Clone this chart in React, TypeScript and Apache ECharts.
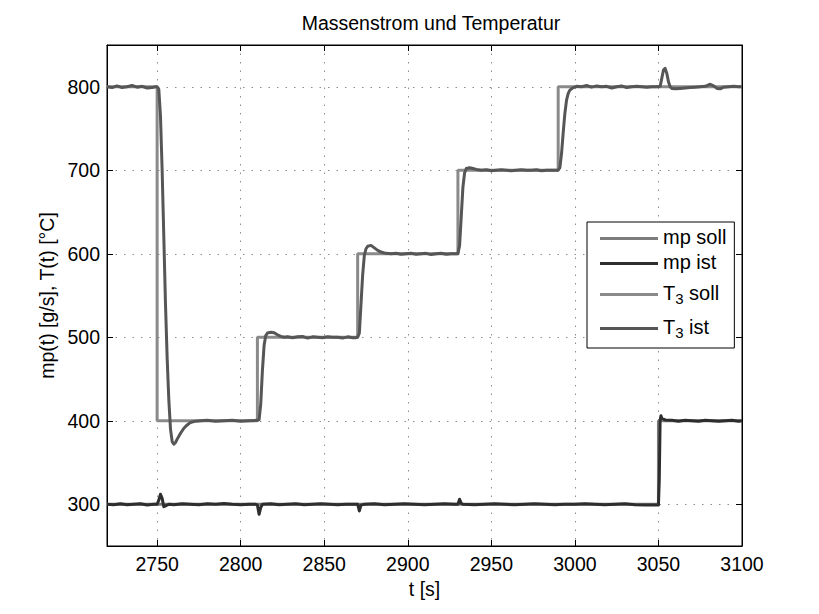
import React, { useEffect, useRef } from "react";
import * as echarts from "echarts";

const xTicks = [2750, 2800, 2850, 2900, 2950, 3000, 3050, 3100];
const yTicks = [300, 400, 500, 600, 700, 800];

const mpSoll: [number, number][] = [
  [2720, 300], [3050, 300], [3050, 400], [3100, 400],
];

const mpIst: [number, number][] = [
  [2720, 300], [2724, 299.5], [2728, 300.5], [2732, 299.5], [2736, 300], [2740, 300.5], [2744, 299], [2748, 300],
  [2750, 300], [2751, 305], [2752, 312], [2753, 307], [2754, 297], [2755, 298], [2757, 300], [2760, 299.5],
  [2765, 300.5], [2770, 300], [2775, 299.5], [2780, 300.5], [2785, 300], [2790, 301], [2795, 300], [2800, 299.5],
  [2805, 300], [2809, 300], [2810, 299], [2811, 288], [2812, 296], [2813, 300], [2818, 300.5], [2823, 299.5],
  [2828, 300], [2833, 300.5], [2838, 299.5], [2843, 300], [2848, 300.5], [2853, 300], [2858, 299.5], [2863, 300],
  [2868, 300], [2870, 300], [2871, 292], [2872, 299], [2874, 300], [2880, 300.5], [2886, 299.5], [2892, 300],
  [2898, 300.5], [2904, 300], [2910, 299.5], [2916, 300], [2922, 300.5], [2928, 300], [2930, 300], [2931, 306],
  [2932, 301], [2933, 300], [2940, 299.5], [2946, 300], [2952, 300.5], [2958, 300], [2964, 299.5], [2970, 300],
  [2976, 300.5], [2982, 300], [2988, 299.5], [2994, 300], [3000, 300], [3006, 300.5], [3012, 300], [3018, 299.5],
  [3024, 300], [3030, 300.5], [3036, 299.5], [3042, 299], [3048, 299], [3050, 299], [3050.5, 330], [3051, 400],
  [3051.5, 406], [3052, 403], [3054, 401], [3058, 400.5], [3062, 399.5], [3066, 400.5], [3070, 400], [3074, 399.5],
  [3078, 400.5], [3082, 400], [3086, 399.5], [3090, 400], [3094, 400.5], [3098, 399.5], [3100, 400],
];

const t3Soll: [number, number][] = [
  [2720, 800], [2750, 800], [2750, 400], [2810, 400], [2810, 500], [2870, 500], [2870, 600],
  [2930, 600], [2930, 700], [2990, 700], [2990, 800], [3100, 800],
];

const t3Ist: [number, number][] = [
  [2720, 800], [2723, 799], [2726, 801], [2729, 799], [2732, 800], [2735, 801.5], [2738, 799.5], [2741, 800.5],
  [2744, 798.5], [2747, 799], [2749, 800], [2750, 800], [2751, 797], [2752, 765], [2753, 700], [2754, 620],
  [2755, 540], [2756, 475], [2757, 425], [2758, 390], [2759, 375], [2760, 372], [2761, 374], [2762, 378],
  [2764, 385], [2766, 391], [2768, 395], [2770, 398], [2773, 399.5], [2776, 400], [2780, 400.5], [2785, 399.5],
  [2790, 400], [2795, 400.5], [2800, 399.5], [2805, 400], [2810, 400.5], [2811, 401], [2812, 420], [2813, 460],
  [2814, 490], [2815, 502], [2816, 505], [2818, 506], [2820, 505.5], [2822, 503], [2824, 501], [2826, 500],
  [2828, 500.5], [2831, 499.5], [2834, 500.5], [2837, 501], [2840, 499], [2843, 500.5], [2846, 500], [2849, 499.5],
  [2852, 500.5], [2855, 500], [2858, 500], [2861, 499], [2864, 500.5], [2867, 499.5], [2869, 499.5], [2870, 500],
  [2871, 505], [2872, 540], [2873, 575], [2874, 598], [2875, 606], [2876, 609], [2878, 610], [2880, 607],
  [2882, 604], [2884, 602], [2887, 600.5], [2890, 600], [2893, 600.5], [2896, 599.5], [2899, 600], [2902, 600.5],
  [2905, 599.5], [2908, 600], [2911, 600.5], [2914, 599], [2917, 600], [2920, 600.5], [2923, 599.5], [2926, 600],
  [2929, 600], [2930, 600], [2931, 610], [2932, 645], [2933, 680], [2934, 697], [2935, 702], [2937, 703],
  [2939, 702], [2941, 701], [2944, 700], [2947, 700.5], [2950, 699.5], [2953, 700], [2956, 700.5], [2959, 700],
  [2962, 699.5], [2965, 700], [2968, 700.5], [2971, 700], [2974, 700], [2977, 700.5], [2980, 699.5], [2983, 700],
  [2986, 700], [2989, 700], [2990, 700], [2991, 703], [2992, 720], [2993, 745], [2994, 768], [2995, 784],
  [2996, 792], [2997, 796], [2999, 799], [3001, 800.5], [3004, 800], [3007, 801.5], [3010, 799.5], [3013, 801],
  [3016, 800], [3019, 800.5], [3022, 798.5], [3025, 800], [3028, 801], [3031, 799], [3034, 800], [3037, 800.5],
  [3040, 800], [3043, 799.5], [3046, 800], [3049, 800], [3051, 800.5], [3052, 810], [3053, 820], [3054, 822],
  [3055, 816], [3056, 806], [3057, 800], [3058, 798], [3060, 797.5], [3063, 798], [3066, 798.5], [3069, 799],
  [3072, 799.5], [3075, 800], [3078, 800.5], [3081, 803], [3083, 801], [3085, 798], [3087, 797.5], [3089, 799.5],
  [3092, 800], [3095, 800.5], [3098, 800], [3100, 800],
];

const FONT = "Liberation Sans, Arial, Helvetica, sans-serif";

export default function App() {
  const ref = useRef<HTMLDivElement>(null);
  useEffect(() => {
    if (!ref.current) return;
    const chart = echarts.init(ref.current, null, { renderer: "svg" });
    const axisCommon = {
      axisLine: { show: true, lineStyle: { color: "#000", width: 1 } },
      axisTick: { show: true, inside: true, length: 6, lineStyle: { color: "#000", width: 1 } },
    };
    const gridLine = { show: true, lineStyle: { color: "#8c8c8c", width: 1, type: [1.5, 7] as any } };
    const plain = (v: number) => String(v);
    const xBase = {
      ...axisCommon,
      type: "value" as const,
      min: 2720,
      max: 3100,
      axisTick: { ...axisCommon.axisTick, customValues: xTicks },
    };
    const yBase = {
      ...axisCommon,
      type: "value" as const,
      min: 250,
      max: 850,
      axisTick: { ...axisCommon.axisTick, customValues: yTicks },
    };
    chart.setOption({
      animation: false,
      backgroundColor: "#fff",
      textStyle: { fontFamily: FONT },
      title: {
        text: "Massenstrom und Temperatur",
        left: 426,
        top: 8,
        textAlign: "center",
        textStyle: { fontFamily: FONT, fontSize: 19.5, fontWeight: "normal", color: "#000" },
      },
      grid: { left: 107, right: 77, top: 45, bottom: 68, show: true, borderColor: "#000", borderWidth: 1, backgroundColor: "transparent" },
      legend: {
        orient: "vertical",
        left: 587,
        top: 222,
        padding: [5, 8, 8, 13],
        itemGap: 5,
        itemWidth: 58,
        itemHeight: 3,
        icon: "rect",
        borderColor: "#000",
        borderWidth: 1,
        backgroundColor: "#fff",
        selectedMode: false,
        data: ["mp soll", "mp ist", "T3 soll", "T3 ist"],
        formatter: (name: string) => {
          if (name === "T3 soll") return "{n|T}{s|3}{n| soll}";
          if (name === "T3 ist") return "{n|T}{s|3}{n| ist}";
          return "{n|" + name + "}";
        },
        textStyle: {
          fontFamily: FONT,
          fontSize: 20,
          color: "#000",
          rich: {
            n: { fontFamily: FONT, fontSize: 20, lineHeight: 23, verticalAlign: "top", color: "#000" },
            s: { fontFamily: FONT, fontSize: 15, lineHeight: 17, padding: [14, 0, 0, 0], verticalAlign: "bottom", color: "#000" },
          },
        },
      },
      xAxis: [
        {
          ...xBase,
          position: "bottom",
          name: "t [s]",
          nameLocation: "middle",
          nameGap: 31,
          nameTextStyle: { fontFamily: FONT, fontSize: 19.5, color: "#000" },
          axisLabel: { customValues: xTicks, formatter: plain, fontFamily: FONT, fontSize: 19.5, color: "#000", margin: 8 },
          splitLine: gridLine,
        },
        {
          ...xBase,
          position: "top",
          axisLabel: { show: false, customValues: xTicks },
          splitLine: { show: false },
        },
      ],
      yAxis: [
        {
          ...yBase,
          position: "left",
          name: "mp(t) [g/s], T(t) [°C]",
          nameLocation: "middle",
          nameGap: 44,
          nameRotate: 90,
          nameTextStyle: { fontFamily: FONT, fontSize: 19.5, color: "#000" },
          axisLabel: { customValues: yTicks, formatter: plain, fontFamily: FONT, fontSize: 19.5, color: "#000", margin: 7 },
          splitLine: gridLine,
        },
        {
          ...yBase,
          position: "right",
          axisLabel: { show: false, customValues: yTicks },
          splitLine: { show: false },
        },
      ],
      series: [
        { name: "mp soll", type: "line", data: mpSoll, symbol: "none", color: "#7d7d7d", lineStyle: { width: 3, color: "#7d7d7d" } },
        { name: "mp ist", type: "line", data: mpIst, symbol: "none", color: "#2e2e2e", lineStyle: { width: 3, color: "#2e2e2e", join: "round" } },
        { name: "T3 soll", type: "line", data: t3Soll, symbol: "none", color: "#8a8a8a", lineStyle: { width: 3, color: "#8a8a8a" } },
        { name: "T3 ist", type: "line", data: t3Ist, symbol: "none", color: "#565656", lineStyle: { width: 3, color: "#565656", join: "round" } },
      ],
    });
    return () => chart.dispose();
  }, []);
  return (
    <div
      ref={ref}
      style={{ position: "fixed", left: 0, top: 0, width: 819, height: 614, background: "#fff" }}
    />
  );
}
